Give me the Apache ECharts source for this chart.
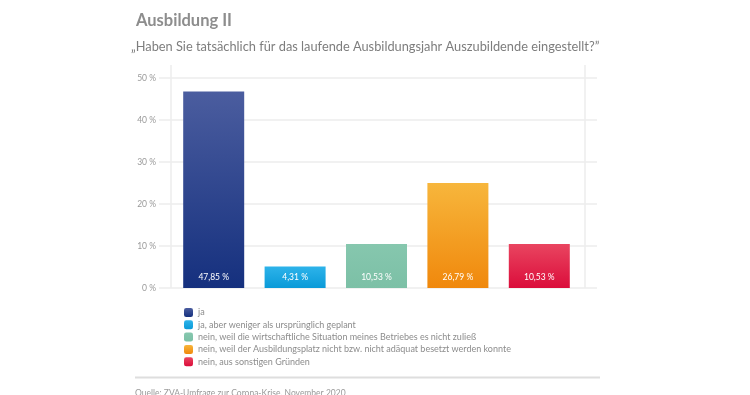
<!DOCTYPE html>
<html><head><meta charset="utf-8">
<script src="https://cdn.jsdelivr.net/npm/echarts@6/dist/echarts.min.js"></script>
<style>html,body{margin:0;padding:0;background:#fff}#c{width:750px;height:395px}</style>
</head><body><div id="c"></div>
<script>
const titleText = 'Ausbildung II';
const subtitleText = '\u201EHaben Sie tats\u00e4chlich f\u00fcr das laufende Ausbildungsjahr Auszubildende eingestellt?\u201D';
const sourceText = 'Quelle: ZVA-Umfrage zur Corona-Krise, November 2020';
const categories = [
  'ja',
  'ja, aber weniger als urspr\u00fcnglich geplant',
  'nein, weil die wirtschaftliche Situation meines Betriebes es nicht zulie\u00df',
  'nein, weil der Ausbildungsplatz nicht bzw. nicht ad\u00e4quat besetzt werden konnte',
  'nein, aus sonstigen Gr\u00fcnden'
];
const barValues = [46.8, 5.1, 10.5, 25.0, 10.5];
const valueLabels = ['47,85 %', '4,31 %', '10,53 %', '26,79 %', '10,53 %'];
const yMin = 0, yMax = 50, yStep = 10;
const colorsTop = ['#4b5d9f', '#2db3ea', '#86c7ae', '#f7b63c', '#e94560'];
const colorsBottom = ['#15307e', '#0a9ad8', '#7cc0a6', '#f0880c', '#db0d3b'];

const FONT = 'Lato, "Open Sans", sans-serif';
const chart = echarts.init(document.getElementById('c'), null, {renderer: 'canvas'});

function grad(i) {
  return new echarts.graphic.LinearGradient(0, 0, 0, 1, [
    {offset: 0, color: colorsTop[i]}, {offset: 1, color: colorsBottom[i]}
  ]);
}

const series = categories.map((name, i) => ({
  name: name,
  type: 'bar',
  stack: 'all',
  xAxisIndex: 0, yAxisIndex: 0,
  barWidth: 61,
  itemStyle: {color: grad(i)},
  label: {
    show: true, position: 'insideBottom', distance: 6,
    color: '#fff', fontSize: 8.5, fontFamily: FONT,
    formatter: () => valueLabels[i]
  },
  data: categories.map((c, j) => j === i ? barValues[i] : '-')
}));

chart.setOption({
  backgroundColor: '#fff',
  animation: false,
  title: [
    {text: titleText, left: 136, top: 12, padding: 0, textStyle: {color: '#8d8d8d', fontSize: 16.5, fontWeight: 'bold', fontFamily: FONT}},
    {text: subtitleText, left: 131, top: 40, padding: 0, textStyle: {color: '#7d7d7d', fontSize: 12.8, fontWeight: 'normal', fontFamily: FONT}},
    {text: sourceText, left: 135, top: 389, padding: 0, textStyle: {color: '#9a9a9a', fontSize: 8.5, fontWeight: 'normal', fontFamily: FONT}}
  ],
  legend: {
    orient: 'vertical', left: 184, top: 308, padding: 0,
    itemWidth: 9, itemHeight: 9, itemGap: 3.3,
    icon: 'roundRect',
    textStyle: {color: '#8c8c8c', fontSize: 9, lineHeight: 9, fontFamily: FONT},
    data: categories
  },
  grid: [
    {left: 173, right: 170, top: 78, bottom: 107},
    {left: 159, right: 153, top: 78, bottom: 107}
  ],
  xAxis: [
    {type: 'category', gridIndex: 0, data: categories, axisLine: {show: false}, axisTick: {show: false}, axisLabel: {show: false}},
    {type: 'value', gridIndex: 1, show: false}
  ],
  yAxis: [
    {type: 'value', gridIndex: 0, min: yMin, max: yMax, interval: yStep, show: false, splitLine: {show: false}},
    {type: 'value', gridIndex: 1, min: yMin, max: yMax, interval: yStep,
      axisLine: {show: false}, axisTick: {show: false},
      axisLabel: {color: '#9a9a9a', fontSize: 8.5, fontFamily: FONT, margin: 3, formatter: '{value} %'},
      splitLine: {lineStyle: {color: '#ececec', width: 1.5}}}
  ],
  graphic: [
    {type: 'line', shape: {x1: 171, y1: 65, x2: 171, y2: 288}, style: {stroke: '#ececec', lineWidth: 1.5}, z: 0},
    {type: 'line', shape: {x1: 585, y1: 65, x2: 585, y2: 288}, style: {stroke: '#ececec', lineWidth: 1.5}, z: 0},
    {type: 'line', shape: {x1: 135, y1: 377.5, x2: 600, y2: 377.5}, style: {stroke: '#dedede', lineWidth: 2}}
  ],
  series: series
});
</script></body></html>
